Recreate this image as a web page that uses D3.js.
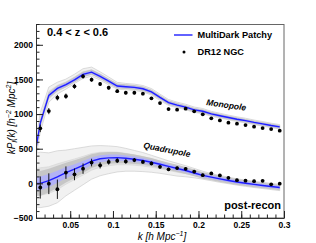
<!DOCTYPE html>
<html>
<head>
<meta charset="utf-8">
<script src="https://cdn.jsdelivr.net/npm/d3@7"></script>
<style>
  body { margin: 0; background: #fff; }
  svg { display: block; font-family: 'Liberation Sans', Arial, Helvetica, sans-serif; }
</style>
</head>
<body>
<svg id="chart" width="316" height="243"></svg>
<script>
// mock k bins (MultiDark Patchy)
const kMock = [0.005, 0.015, 0.025, 0.035, 0.045, 0.055, 0.065, 0.075, 0.085, 0.095,
  0.105, 0.115, 0.125, 0.135, 0.145, 0.155, 0.165, 0.175, 0.185, 0.195,
  0.205, 0.215, 0.225, 0.235, 0.245, 0.255, 0.265, 0.275, 0.285, 0.295]

const monoMock = [150, 870, 1270, 1370, 1425, 1495, 1572, 1605, 1545, 1475,
  1405, 1395, 1385, 1365, 1320, 1240, 1165, 1130, 1100, 1060,
  1040, 1002, 975, 950, 925, 905, 880, 858, 835, 815]
const monoMockErr = [25, 25, 24, 23, 22, 22, 22, 21, 21, 20,
  20, 19, 19, 18, 18, 17, 17, 16, 16, 16,
  15, 15, 15, 15, 14, 14, 14, 14, 14, 14]
const monoMockMin = [0, 740, 1170, 1290, 1360, 1440, 1515, 1545, 1490, 1420,
  1360, 1350, 1340, 1320, 1275, 1195, 1125, 1092, 1062, 1025,
  1005, 968, 942, 917, 893, 872, 848, 826, 804, 784]
const monoMockMax = [300, 1020, 1390, 1460, 1505, 1575, 1655, 1678, 1610, 1535,
  1458, 1442, 1432, 1412, 1368, 1288, 1210, 1172, 1142, 1102,
  1080, 1040, 1012, 985, 960, 940, 914, 892, 868, 848]

const quadMock = [0, 0, 40, 95, 155, 205, 260, 320, 355, 368,
  372, 362, 348, 330, 305, 275, 245, 215, 185, 150,
  115, 90, 65, 42, 20, 2, -15, -30, -45, -60]
const quadMockErr = [100, 100, 95, 88, 80, 72, 62, 55, 50, 47,
  45, 40, 38, 35, 33, 31, 30, 29, 28, 27,
  26, 25, 25, 24, 24, 23, 23, 22, 22, 22]
const quadMockMin = [-330, -350, -330, -280, -180, -100, -20, 60, 110, 140,
  165, 175, 175, 170, 160, 145, 125, 105, 95, 80,
  60, 38, 15, -5, -25, -43, -60, -75, -90, -105]
const quadMockMax = [420, 450, 440, 470, 480, 500, 520, 540, 545, 540,
  530, 505, 475, 445, 405, 365, 325, 290, 255, 215,
  175, 140, 115, 90, 65, 47, 30, 15, 0, -15]

// DR12 NGC measurements
const kData = [0.015, 0.025, 0.035, 0.045, 0.055, 0.065, 0.075, 0.085, 0.095,
  0.105, 0.115, 0.125, 0.135, 0.145, 0.155, 0.165, 0.175, 0.185, 0.195,
  0.205, 0.215, 0.225, 0.235, 0.245, 0.255, 0.265, 0.275, 0.285, 0.295]
const monoData = [794, 1043, 1237, 1258, 1400, 1545, 1496, 1434, 1380,
  1330, 1308, 1308, 1294, 1227, 1158, 1072, 1063, 1078, 1039,
  996, 938, 909, 876, 861, 841, 818, 798, 784, 760]
const monoDataErr = [55, 45, 40, 38, 35, 32, 30, 28, 26,
  25, 24, 23, 22, 21, 20, 20, 19, 18, 18,
  17, 17, 16, 16, 15, 15, 15, 14, 14, 14]
const quadData = [-60, -5, -85, 155, 130, 212, 300, 260, 310,
  328, 316, 336, 310, 287, 238, 202, 220, 210, 170,
  118, 144, 115, 80, 46, 38, 32, 36, -14, -5]
const quadDataErr = [160, 150, 140, 90, 85, 75, 55, 45, 40,
  35, 32, 30, 28, 27, 26, 25, 24, 24, 23,
  22, 22, 21, 21, 20, 20, 20, 19, 19, 19]

const yTicks = [-500, 0, 500, 1000, 1500, 2000]
const xTicks = [0.05, 0.1, 0.15, 0.2, 0.25, 0.3]
const xTickLabels = ['0.05', '0.1', '0.15', '0.2', '0.25', '0.3']

const margin = { top: 24, right: 32, bottom: 25, left: 36 }
const width = 316 - margin.left - margin.right
const height = 243 - margin.top - margin.bottom

const blue = '#1f1fff'

const svg = d3
  .select('#chart')
  .append('g')
  .attr('transform', `translate(${margin.left}, ${margin.top})`)

svg
  .append('defs')
  .append('clipPath')
  .attr('id', 'plot-clip')
  .append('rect')
  .attr('width', width)
  .attr('height', height)

const x = d3.scaleLinear().domain([0.01, 0.3]).range([0, width])
const y = d3.scaleLinear().domain([-500, 2300]).range([height, 0])

const plot = svg.append('g').attr('clip-path', 'url(#plot-clip)')

const area = (lo, hi) =>
  d3
    .area()
    .x((d, i) => x(kMock[i]))
    .y0((d, i) => y(lo(i)))
    .y1((d, i) => y(hi(i)))

const line = vals =>
  d3
    .line()
    .x((d, i) => x(kMock[i]))
    .y((d, i) => y(vals[i]))

const multipoles = [
  { mean: monoMock, err: monoMockErr, min: monoMockMin, max: monoMockMax },
  { mean: quadMock, err: quadMockErr, min: quadMockMin, max: quadMockMax },
]

// spread of individual mocks
multipoles.forEach(m => {
  plot
    .append('path')
    .datum(kMock)
    .attr('d', area(i => m.min[i], i => m.max[i]))
    .attr('fill', '#f1f1f1')
    .attr('stroke', '#cdcdcd')
    .attr('stroke-width', 0.7)
  plot
    .append('path')
    .datum(kMock)
    .attr('d', area(i => (m.mean[i] + m.min[i]) / 2, i => (m.mean[i] + m.max[i]) / 2))
    .attr('fill', '#e2e2e2')
    .attr('stroke', '#d0d0d0')
    .attr('stroke-width', 0.5)
  plot
    .append('path')
    .datum(kMock)
    .attr('d', area(i => m.mean[i] - 1.8 * m.err[i], i => m.mean[i] + 1.8 * m.err[i]))
    .attr('fill', '#c6c6c6')
})

// 1 sigma band + mean
multipoles.forEach(m => {
  plot
    .append('path')
    .datum(kMock)
    .attr('d', area(i => m.mean[i] - m.err[i], i => m.mean[i] + m.err[i]))
    .attr('fill', '#b2b2f6')
  plot
    .append('path')
    .datum(kMock)
    .attr('d', line(m.mean))
    .attr('fill', 'none')
    .attr('stroke', blue)
    .attr('stroke-width', 1.4)
})

// data points
const points = [
  { vals: monoData, err: monoDataErr },
  { vals: quadData, err: quadDataErr },
]

points.forEach(p => {
  const g = plot.append('g')
  g.selectAll('line')
    .data(kData)
    .join('line')
    .attr('x1', d => x(d))
    .attr('x2', d => x(d))
    .attr('y1', (d, i) => y(p.vals[i] - p.err[i]))
    .attr('y2', (d, i) => y(p.vals[i] + p.err[i]))
    .attr('stroke', '#000')
    .attr('stroke-width', 0.9)
  g.selectAll('circle')
    .data(kData)
    .join('circle')
    .attr('cx', d => x(d))
    .attr('cy', (d, i) => y(p.vals[i]))
    .attr('r', 1.9)
    .attr('fill', '#000')
})

// frame
svg
  .append('rect')
  .attr('x', 0.5)
  .attr('y', 0.5)
  .attr('width', width - 0.5)
  .attr('height', height - 0.5)
  .attr('fill', 'none')
  .attr('stroke', '#666')
  .attr('stroke-width', 1)

// axes, ticks inside the frame
const yMinor = d3.range(-500, 2301, 100)
const xMinor = d3.range(0.01, 0.3001, 0.01)

svg
  .append('g')
  .call(d3.axisLeft(y).tickValues(yMinor).tickSize(-3.5).tickFormat(''))
  .call(g => g.select('.domain').remove())
svg
  .append('g')
  .attr('class', 'y-axis')
  .call(d3.axisLeft(y).tickValues(yTicks).tickSize(-7).tickSizeOuter(0).tickPadding(3).tickFormat(d3.format('d')))

svg
  .append('g')
  .attr('transform', `translate(0, ${height})`)
  .call(d3.axisBottom(x).tickValues(xMinor).tickSize(-3.5).tickFormat(''))
  .call(g => g.select('.domain').remove())
svg
  .append('g')
  .attr('class', 'x-axis')
  .attr('transform', `translate(0, ${height})`)
  .call(d3.axisBottom(x).tickValues(xTicks).tickSize(-7).tickSizeOuter(0).tickPadding(3).tickFormat((d, i) => xTickLabels[i]))

svg.selectAll('.tick line').attr('stroke', '#222')
svg.selectAll('.domain').attr('stroke', '#333')
svg
  .selectAll('.y-axis text, .x-axis text')
  .attr('font-family', "'Liberation Sans', Arial, sans-serif")
  .attr('font-size', 8.5)
  .attr('font-weight', 'bold')
  .attr('fill', '#000')
svg.selectAll('.x-axis text').attr('dy', '0.78em')

// axis titles
const yTitle = svg
  .append('text')
  .attr('transform', `translate(${15 - margin.left}, ${118 - margin.top}) rotate(-90)`)
  .attr('text-anchor', 'middle')
  .attr('font-size', 10)
  .attr('font-style', 'italic')
yTitle.append('tspan').text('kP')
yTitle.append('tspan').attr('font-size', 7).attr('dy', 2).text('l')
yTitle.append('tspan').attr('dy', -2).text('(k)  [h')
yTitle.append('tspan').attr('font-size', 7).attr('dy', -4).text('\u22122')
yTitle.append('tspan').attr('dy', 4).text(' Mpc')
yTitle.append('tspan').attr('font-size', 7).attr('dy', -4).text('2')
yTitle.append('tspan').attr('dy', 4).text(']')

const xTitle = svg
  .append('text')
  .attr('x', 162 - margin.left)
  .attr('y', 240 - margin.top)
  .attr('text-anchor', 'middle')
  .attr('font-size', 10)
  .attr('font-style', 'italic')
xTitle.append('tspan').text('k   [h Mpc')
xTitle.append('tspan').attr('font-size', 7).attr('dy', -4).text('\u22121')
xTitle.append('tspan').attr('dy', 4).text(']')

// labels inside the frame
svg
  .append('text')
  .attr('x', 47 - margin.left)
  .attr('y', 36 - margin.top)
  .attr('font-size', 11)
  .attr('font-weight', 'bold')
  .text('0.4 < z < 0.6')

svg
  .append('text')
  .attr('x', 281 - margin.left)
  .attr('y', 209 - margin.top)
  .attr('text-anchor', 'end')
  .attr('font-size', 11)
  .attr('font-weight', 'bold')
  .text('post-recon')

svg
  .append('text')
  .attr('transform', `translate(${206 - margin.left}, ${105 - margin.top}) rotate(8)`)
  .attr('font-size', 8.5)
  .attr('font-weight', 'bold')
  .attr('font-style', 'italic')
  .text('Monopole')

svg
  .append('text')
  .attr('transform', `translate(${143 - margin.left}, ${148 - margin.top}) rotate(11)`)
  .attr('font-size', 8.5)
  .attr('font-weight', 'bold')
  .attr('font-style', 'italic')
  .text('Quadrupole')

// legend
const legend = svg.append('g').attr('transform', `translate(${174 - margin.left}, ${35 - margin.top})`)
legend
  .append('line')
  .attr('x1', 0)
  .attr('x2', 18.5)
  .attr('stroke', blue)
  .attr('stroke-width', 1.4)
legend
  .append('circle')
  .attr('cx', 10)
  .attr('cy', 17)
  .attr('r', 1.5)
  .attr('fill', '#000')
legend
  .selectAll('text')
  .data(['MultiDark Patchy', 'DR12 NGC'])
  .join('text')
  .attr('x', 23.5)
  .attr('y', (d, i) => 3.3 + i * 17)
  .attr('font-size', 9.2)
  .attr('font-weight', 'bold')
  .text(d => d)
</script>
</body>
</html>
